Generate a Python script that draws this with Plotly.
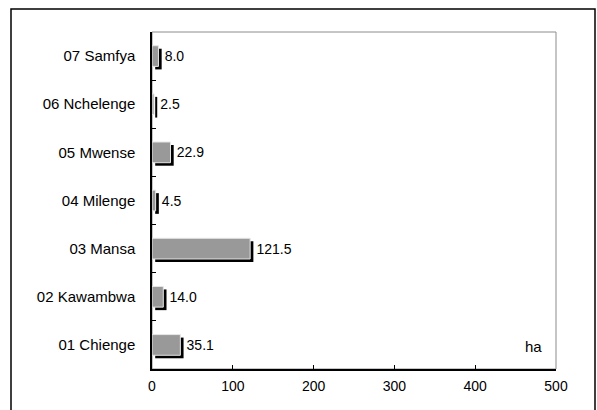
import plotly.graph_objects as go

# Cultivated area by district (hectares)
districts = ["01 Chienge", "02 Kawambwa", "03 Mansa", "04 Milenge",
             "05 Mwense", "06 Nchelenge", "07 Samfya"]
area_ha = [35.1, 14.0, 121.5, 4.5, 22.9, 2.5, 8.0]
x_ticks = [0, 100, 200, 300, 400, 500]
unit_label = "ha"

FONT = "Arial, 'Liberation Sans', sans-serif"
W, H = 597, 410
M_L, M_R, M_T, M_B = 152, 41, 32, 41
plot_w = W - M_L - M_R
plot_h = H - M_T - M_B
X_MAX = 500

# drop-shadow offset: ~3 px right / ~3 px down
px_per_unit = plot_w / X_MAX
px_per_cat = plot_h / len(districts)
SH_DX = 3.2 / px_per_unit
SH_DY = 3.0 / px_per_cat
BAR_W = 0.43

labels = [f"{v:.1f}" for v in area_ha]

fig = go.Figure()

# black shadow behind each bar
fig.add_trace(go.Bar(
    y=districts, x=area_ha, base=SH_DX, orientation="h",
    width=BAR_W, offset=-BAR_W / 2 - SH_DY,
    marker=dict(color="black", line=dict(width=0)),
    hoverinfo="skip", showlegend=False,
))

# grey bars
fig.add_trace(go.Bar(
    y=districts, x=area_ha, orientation="h",
    width=BAR_W, offset=-BAR_W / 2,
    marker=dict(color="#999999", line=dict(color="#e6e6e6", width=1)),
    showlegend=False,
))

# value labels, placed just past the shadow and centred on the bar
fig.add_trace(go.Bar(
    y=districts, x=area_ha, base=SH_DX, orientation="h",
    width=BAR_W, offset=-BAR_W / 2,
    marker=dict(color="rgba(0,0,0,0)", line=dict(width=0)),
    text=labels, textposition="outside",
    textfont=dict(family=FONT, size=14, color="black"),
    cliponaxis=False, hoverinfo="skip", showlegend=False,
))

fig.update_layout(
    width=W, height=H,
    margin=dict(l=M_L, r=M_R, t=M_T, b=M_B, pad=0),
    barmode="overlay",
    paper_bgcolor="white", plot_bgcolor="white",
    font=dict(family=FONT, size=14, color="black"),
    xaxis=dict(
        range=[0, X_MAX], tickvals=x_ticks, ticktext=[str(t) for t in x_ticks],
        ticks="inside", ticklen=4, tickwidth=1, tickcolor="black",
        showline=True, linecolor="black", linewidth=1.5,
        showgrid=False, zeroline=False, ticklabelstandoff=3,
        tickfont=dict(family=FONT, size=14),
    ),
    yaxis=dict(
        type="category", categoryorder="array", categoryarray=districts,
        range=[-0.5, len(districts) - 0.5],
        tickson="boundaries", ticks="inside", ticklen=4, tickwidth=1,
        tickcolor="black", showline=True, linecolor="black", linewidth=1.5,
        showgrid=False, zeroline=False, ticklabelstandoff=12,
        tickfont=dict(family=FONT, size=15),
    ),
    shapes=[
        # grey plot-area border (top/right visible)
        dict(type="rect", xref="paper", yref="paper", x0=0, x1=1, y0=0, y1=1,
             line=dict(color="#8c8c8c", width=1), layer="below"),
        # outer chart frame
        dict(type="rect", xref="paper", yref="paper",
             x0=(11 - M_L) / plot_w, x1=(595 - M_L) / plot_w,
             y0=-0.3, y1=1 + (M_T - 9) / plot_h,
             line=dict(color="black", width=1.5)),
    ],
    annotations=[
        dict(text=unit_label, xref="paper", yref="paper",
             x=(533 - M_L) / plot_w, y=(H - M_B - 346) / plot_h,
             xanchor="center", yanchor="middle",
             showarrow=False, font=dict(family=FONT, size=15)),
    ],
)

fig.write_html("out.html")
